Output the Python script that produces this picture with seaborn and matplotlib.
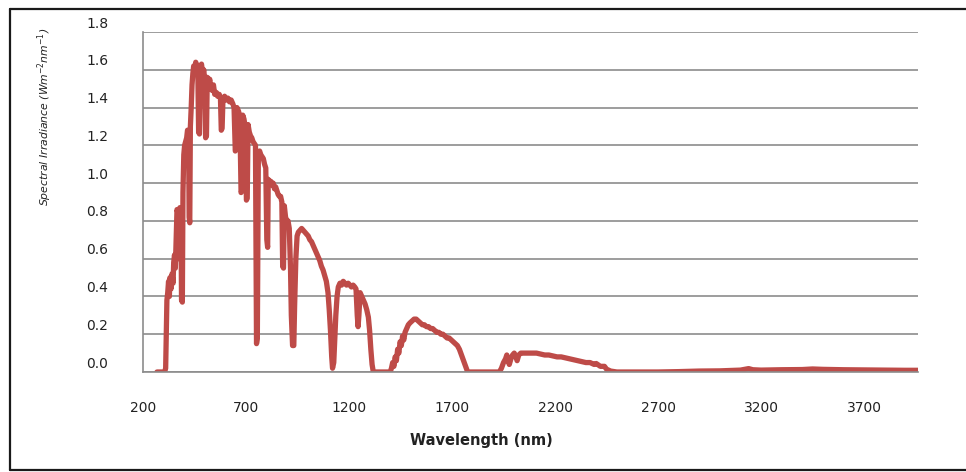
import matplotlib
matplotlib.use("Agg")
import matplotlib.pyplot as plt
import matplotlib.transforms as mtransforms
from matplotlib.lines import Line2D
import seaborn as sns

# spectrum (nm, W m-2 nm-1)
wavelength = [
    268, 305, 310, 316, 320, 324, 328, 331, 336, 341, 346, 349, 353, 357, 361, 365, 370, 374, 379, 384,
    387, 391, 394, 398, 402, 407, 412, 416, 421, 424, 427, 430, 434, 438, 442, 446, 451, 456, 461, 466,
    470, 474, 478, 484, 490, 495, 499, 504, 508, 512, 518, 524, 530, 536, 542, 548, 556, 562, 570, 576,
    580, 584, 588, 596, 604, 612, 620, 628, 636, 642, 648, 652, 656, 664, 670, 676, 680, 684, 690, 696,
    702, 706, 710, 716, 722, 728, 734, 740, 746, 751, 755, 760, 766, 772, 778, 784, 790, 796, 801, 805,
    808, 814, 820, 826, 832, 838, 844, 850, 856, 862, 868, 874, 878, 882, 886, 892, 898, 904, 910, 916,
    920, 926, 932, 936, 942, 948, 954, 962, 970, 978, 986, 994, 1002, 1010, 1018, 1026, 1034, 1042, 1050, 1058,
    1066, 1074, 1082, 1090, 1098, 1104, 1110, 1116, 1120, 1126, 1130, 1136, 1142, 1148, 1156, 1164, 1172, 1180, 1188, 1196,
    1204, 1212, 1220, 1228, 1234, 1240, 1244, 1248, 1254, 1262, 1270, 1278, 1286, 1294, 1300, 1306, 1312, 1318, 1336, 1400,
    1406, 1412, 1418, 1424, 1430, 1436, 1442, 1448, 1454, 1460, 1466, 1472, 1480, 1488, 1496, 1506, 1516, 1526, 1536, 1546,
    1556, 1566, 1576, 1586, 1596, 1606, 1616, 1626, 1636, 1646, 1656, 1666, 1676, 1686, 1696, 1706, 1716, 1726, 1736, 1746,
    1756, 1766, 1776, 1930, 1940, 1950, 1960, 1966, 1972, 1978, 1986, 1994, 2002, 2010, 2016, 2024, 2034, 2044, 2056, 2070,
    2090, 2110, 2130, 2150, 2170, 2190, 2210, 2230, 2250, 2270, 2290, 2310, 2330, 2350, 2370, 2390, 2400, 2420, 2440, 2450,
    2470, 2500, 2700, 2800, 2900, 3000, 3050, 3100, 3140, 3160, 3200, 3300, 3400, 3450, 3500, 3600, 3700, 3800, 3900, 3965,
]
irradiance = [
    0.00, 0.00, 0.02, 0.38, 0.42, 0.48, 0.40, 0.50, 0.44, 0.52, 0.47, 0.58, 0.62, 0.55, 0.70, 0.86, 0.84, 0.60, 0.87, 0.86,
    0.38, 0.37, 0.95, 1.15, 1.20, 1.22, 1.24, 1.28, 1.27, 0.82, 0.79, 1.30, 1.40, 1.52, 1.58, 1.62, 1.60, 1.64, 1.62, 1.60,
    1.27, 1.26, 1.62, 1.63, 1.58, 1.60, 1.55, 1.24, 1.25, 1.56, 1.52, 1.55, 1.50, 1.49, 1.52, 1.47, 1.48, 1.46, 1.47, 1.45,
    1.28, 1.29, 1.44, 1.46, 1.44, 1.45, 1.43, 1.44, 1.42, 1.40, 1.17, 1.18, 1.40, 1.38, 1.35, 0.95, 0.96, 1.36, 1.34, 1.30,
    0.91, 0.92, 1.31, 1.27, 1.25, 1.24, 1.22, 1.21, 1.20, 0.15, 0.18, 1.16, 1.17, 1.15, 1.14, 1.13, 1.10, 1.08, 0.70, 0.66,
    1.02, 1.00, 1.01, 0.99, 1.00, 0.97, 0.98, 0.96, 0.94, 0.93, 0.93, 0.90, 0.56, 0.55, 0.88, 0.82, 0.80, 0.80, 0.76, 0.55,
    0.30, 0.14, 0.14, 0.35, 0.60, 0.72, 0.74, 0.75, 0.76, 0.75, 0.74, 0.73, 0.72, 0.70, 0.69, 0.67, 0.65, 0.63, 0.61, 0.59,
    0.56, 0.54, 0.51, 0.48, 0.42, 0.33, 0.22, 0.08, 0.02, 0.05, 0.15, 0.30, 0.40, 0.45, 0.47, 0.46, 0.48, 0.47, 0.46, 0.47,
    0.46, 0.45, 0.46, 0.45, 0.44, 0.30, 0.24, 0.30, 0.42, 0.40, 0.38, 0.36, 0.33, 0.29, 0.22, 0.12, 0.04, 0.00, 0.00, 0.00,
    0.02, 0.05, 0.03, 0.08, 0.06, 0.12, 0.10, 0.16, 0.14, 0.19, 0.17, 0.21, 0.23, 0.25, 0.26, 0.27, 0.28, 0.28, 0.27, 0.26,
    0.25, 0.25, 0.24, 0.24, 0.23, 0.23, 0.22, 0.21, 0.21, 0.20, 0.20, 0.19, 0.18, 0.18, 0.17, 0.16, 0.15, 0.14, 0.12, 0.09,
    0.06, 0.03, 0.00, 0.00, 0.02, 0.05, 0.07, 0.09, 0.06, 0.04, 0.07, 0.09, 0.10, 0.08, 0.06, 0.09, 0.10, 0.10, 0.10, 0.10,
    0.10, 0.10, 0.095, 0.09, 0.09, 0.085, 0.08, 0.08, 0.075, 0.07, 0.065, 0.06, 0.055, 0.05, 0.05, 0.04, 0.045, 0.03, 0.03, 0.015,
    0.005, 0.0, 0.0, 0.002, 0.005, 0.006, 0.008, 0.01, 0.018, 0.012, 0.01, 0.012, 0.013, 0.016, 0.014, 0.012, 0.011, 0.01, 0.009, 0.009,
]
x_ticks = [200, 700, 1200, 1700, 2200, 2700, 3200, 3700]
y_ticks = [0.0, 0.2, 0.4, 0.6, 0.8, 1.0, 1.2, 1.4, 1.6, 1.8]

sns.set_style("white")
plt.rcParams['font.family'] = ['DejaVu Sans']

W, H = 966, 472
fig = plt.figure(figsize=(W / 100, H / 100), dpi=100)
ax = fig.add_axes([143 / W, 1 - 372 / H, (918 - 143) / W, (372 - 32) / H])

grid_col = '#8c8c8c'
sns.lineplot(x=wavelength, y=irradiance, ax=ax, color='#BE4B48', linewidth=3.8,
             estimator=None, sort=False)

ax.set_xlim(200, 3962)
ax.set_ylim(0, 1.8)
ax.set_xticks(x_ticks)
ax.set_yticks(y_ticks)
ax.set_xticklabels([str(t) for t in x_ticks])
ax.set_yticklabels([f'{t:.1f}' for t in y_ticks])
ax.yaxis.grid(True, color=grid_col, linewidth=1.2)
ax.xaxis.grid(False)
ax.set_axisbelow(True)

for side in ['top', 'right']:
    ax.spines[side].set_visible(False)
for side in ['left', 'bottom']:
    ax.spines[side].set_color(grid_col)
    ax.spines[side].set_linewidth(1.2)

ax.tick_params(axis='y', direction='out', length=6, width=1, color=grid_col,
               pad=19, labelsize=10, labelcolor='#222222')
ax.tick_params(axis='x', direction='out', length=4, width=1, color=grid_col,
               pad=17, labelsize=10, labelcolor='#222222')

# y tick labels sit a little above their gridlines in the original
offset = mtransforms.ScaledTranslation(0, 0.10, fig.dpi_scale_trans)
for tick in ax.yaxis.get_major_ticks():
    tick.label1.set_transform(tick.label1.get_transform() + offset)

ax.set_xlabel('')
ax.set_ylabel('')
fig.text(481 / W, 1 - 440 / H, 'Wavelength (nm)', ha='center', va='center',
         fontsize=10.5, fontweight='bold', color='#222222')
fig.text(45 / W, 1 - 117 / H, 'Spectral Irradiance (Wm$^{-2}$nm$^{-1}$)', ha='center',
         va='center', rotation=90, fontsize=7.8, fontstyle='italic', color='#222222')

# outer frame (left, top, bottom)
frame = dict(color='#1a1a1a', linewidth=1.6, transform=fig.transFigure)
fig.add_artist(Line2D([10 / W, 10 / W], [1 - 9 / H, 1 - 470 / H], **frame))
fig.add_artist(Line2D([10 / W, 1.0], [1 - 9 / H, 1 - 9 / H], **frame))
fig.add_artist(Line2D([10 / W, 1.0], [1 - 470 / H, 1 - 470 / H], **frame))

fig.savefig('out.png', dpi=100, facecolor='white')
